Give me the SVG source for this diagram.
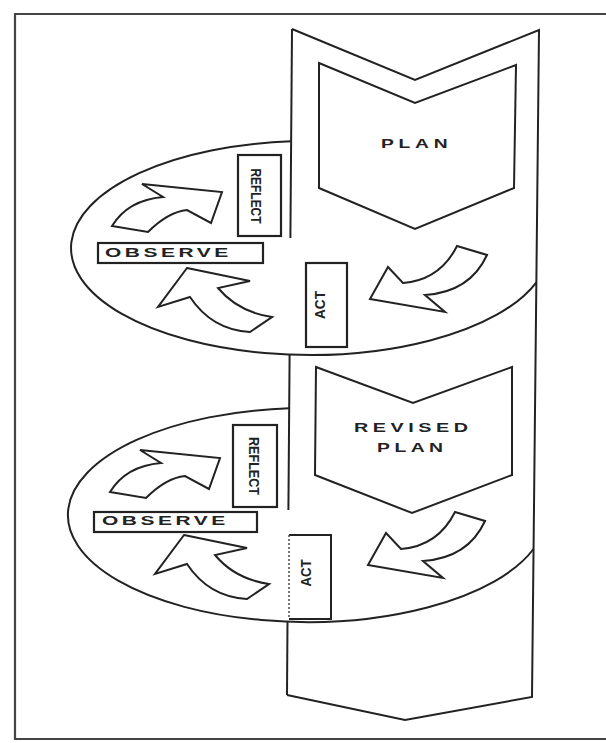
<svg xmlns="http://www.w3.org/2000/svg" width="606" height="743" viewBox="0 0 606 743">
<style>
.ln{fill:none;stroke:#222;stroke-width:2;stroke-linejoin:miter}
.sh{fill:#fff;stroke:#222;stroke-width:2;stroke-linejoin:miter}
.box{fill:#fff;stroke:#222;stroke-width:2.2}
.frame{fill:none;stroke:#444;stroke-width:2.2}
.lbl{font-family:"Liberation Sans",Arial,sans-serif;font-weight:bold;fill:#222}
</style>
<rect width="606" height="743" fill="#fff"/>
<path id="frame" class="frame" d="M606,14 L15,14 L15,739 L606,739"/>

<g id="column">
  <path class="ln" d="M292,29 L415,80 L539,30 L532,697 L405,720 L287,695"/>
  <path class="ln" d="M292,29 L290.4,238"/>
  <path class="ln" d="M289.6,354.6 L288.4,510"/>
  <path class="ln" d="M287.5,621.6 L287,695"/>
</g>

<g id="plan">
  <path class="sh" d="M319,63 L415,103 L516,65 L514,188 L415,229 L319,188 Z"/>
  <text class="lbl" transform="translate(381,148.3) scale(1.6,1)" font-size="12" letter-spacing="3">PLAN</text>
</g>

<g id="revised-plan">
  <path class="sh" d="M316,367 L413,403 L512,367 L512,475 L412,513 L315,475 Z"/>
  <text class="lbl" transform="translate(354,431.8) scale(1.52,1)" font-size="13" letter-spacing="3">REVISED</text>
  <text class="lbl" transform="translate(377,451.8) scale(1.49,1)" font-size="13" letter-spacing="3">PLAN</text>
</g>

<g id="cycle1-ring">
  <path class="ln" d="M291.2,141.3 A239,107 0 1 0 536.4,282.3"/>
</g>
<g id="cycle2-ring">
  <path class="ln" d="M289.2,408.3 A239,107 0 1 0 533.5,549"/>
</g>

<g id="reflect1">
  <rect class="box" x="238" y="155" width="43" height="81"/>
  <text class="lbl" transform="translate(256,196) rotate(90)" font-size="15" text-anchor="middle" dominant-baseline="central" textLength="55" lengthAdjust="spacingAndGlyphs">REFLECT</text>
</g>
<g id="observe1">
  <rect class="box" x="98" y="243" width="165" height="20"/>
  <text class="lbl" transform="translate(105,257.3) scale(1.75,1)" font-size="12" letter-spacing="2">OBSERVE</text>
</g>
<g id="act1">
  <rect class="box" x="306" y="263" width="41" height="84"/>
  <text class="lbl" transform="translate(320,305) rotate(-90)" font-size="14" text-anchor="middle" dominant-baseline="central" textLength="28" lengthAdjust="spacingAndGlyphs">ACT</text>
</g>

<g id="reflect2">
  <rect class="box" x="233" y="425" width="44" height="82"/>
  <text class="lbl" transform="translate(254,466) rotate(90)" font-size="15" text-anchor="middle" dominant-baseline="central" textLength="58" lengthAdjust="spacingAndGlyphs">REFLECT</text>
</g>
<g id="observe2">
  <rect class="box" x="94" y="512" width="163" height="20"/>
  <text class="lbl" transform="translate(102,525.3) scale(1.75,1)" font-size="12" letter-spacing="2">OBSERVE</text>
</g>
<g id="act2">
  <path class="ln" d="M289,535 L331,535 L331,619 L289,619"/>
  <path fill="none" stroke="#555" stroke-width="1.6" stroke-dasharray="2 2" d="M289,535 L289,619"/>
  <text class="lbl" transform="translate(306,573) rotate(-90)" font-size="14" text-anchor="middle" dominant-baseline="central" textLength="27" lengthAdjust="spacingAndGlyphs">ACT</text>
</g>

<g id="connectors">
  <path id="c1-observe-reflect" class="sh" d="M112,226 Q128,200 163,197 L142,184 L222,192 L211,223 L187,210 Q168,212 148,232 Z"/>
  <path id="c1-act-observe" class="sh" d="M187,268 L250,281 L218,288 Q238,312 272,317 L250,332 Q212,330 190,297 L158,307 Z"/>
  <path id="c1-plan-act" class="sh" d="M457,246 L487,255 Q470,292 425,295 L445,312 L370,299 L388,267 L403,283 Q440,280 457,246 Z"/>
  <path id="c2-observe-reflect" class="sh" transform="translate(-2,266)" d="M112,226 Q128,200 163,197 L142,184 L222,192 L211,223 L187,210 Q168,212 148,232 Z"/>
  <path id="c2-act-observe" class="sh" transform="translate(-3,267)" d="M187,268 L250,281 L218,288 Q238,312 272,317 L250,332 Q212,330 190,297 L158,307 Z"/>
  <path id="c2-plan-act" class="sh" transform="translate(-2,266)" d="M457,246 L487,255 Q470,292 425,295 L445,312 L370,299 L388,267 L403,283 Q440,280 457,246 Z"/>
</g>
</svg>
